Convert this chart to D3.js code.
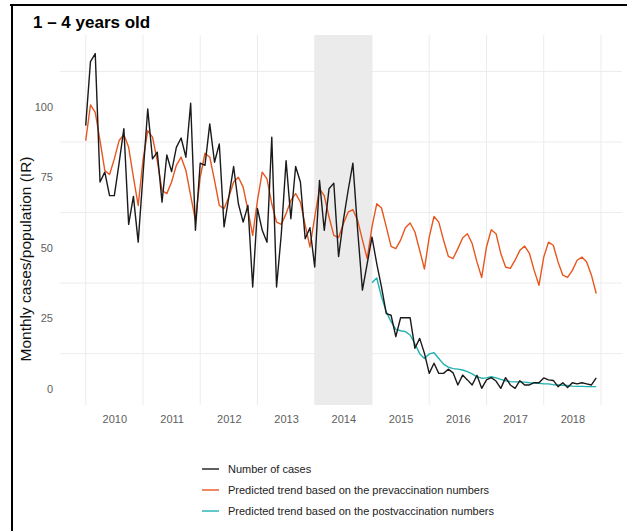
<!DOCTYPE html>
<meta charset="utf-8">
<style>
  body { margin: 0; background: white; font-family: "Liberation Sans", Arial, sans-serif; }
</style>
<div id="chart"></div>
<script src="https://cdn.jsdelivr.net/npm/d3@7"></script>
<script>
// monthly values, Jan 2010 .. Dec 2018
var cases = [
  93.3, 116, 118.8, 73.3, 76.8, 68.5, 68.5, 80, 92.2, 58.3, 68.2, 52,
  75.6, 99.2, 81.5, 83.9, 66.2, 82.9, 77, 85.6, 88.9, 82.1, 101.2, 56.2,
  80, 79.2, 93.9, 80.3, 86.8, 57.4, 68, 78.8, 65.6, 59.1, 65, 36.1,
  63.9, 56.2, 52, 89.2, 36.1, 55, 80.9, 60.3, 78.8, 73.3, 53.2, 57.1,
  43.2, 73.9, 56.2, 70.9, 72.9, 46.9, 59.7, 70.3, 80, 56.2, 35, 44.4,
  53.8, 44.4, 36.1, 26.7, 26.1, 18.5, 25.2, 25.2, 25.2, 14.4, 17.9, 12.6,
  5.5, 9.1, 5.5, 5.5, 7, 5.7, 1.4, 4.9, 3.2, 1.4, 4.8, 0.2,
  3.2, 4, 2.8, 0.2, 4, 1.4, 0.2, 2.9, 1.4, 1.4, 2.2, 2.2,
  3.9, 3.2, 3, 0.8, 2.2, 0.5, 2.2, 1.8, 2.2, 1.8, 1.4, 3.9
];
var prevacc = [
  88, 100.6, 98, 88, 77.4, 76, 81.5, 88, 90.1, 85.6, 75, 65,
  80.9, 91.5, 89.2, 80.9, 70.3, 69.2, 73.3, 79.2, 82.1, 77.4, 68.5, 59.7,
  75, 83.5, 82.1, 73.9, 65, 63.9, 68, 73.3, 75, 71.5, 63.3, 54.4,
  66.8, 76.8, 74.4, 65.6, 59.1, 58.3, 62.1, 66.8, 69.2, 66.2, 58, 50.3,
  60.9, 70.9, 68.5, 60.9, 54.4, 53.6, 58.5, 62.6, 63.5, 59.7, 52.7, 46.2,
  57.4, 65.6, 64.1, 57.4, 50.5, 49.7, 52.7, 57.1, 58.8, 55.6, 49.1, 42.5,
  53.8, 61.1, 59.1, 52.7, 47, 46.2, 49.7, 53.5, 55, 51.5, 45, 39.5,
  50.3, 56.4, 55, 48, 43.2, 42.7, 45.6, 49.1, 50.6, 48, 42, 36.7,
  46.7, 52, 50.9, 45, 40.3, 39.5, 42, 45.6, 46.7, 45, 40.3, 33.8
];
// Jan 2015 .. Dec 2018
var postvacc = [
  37.6, 39.3, 32.6, 27.3, 23.8, 21.1, 20.6, 20.3, 19.1, 16, 12.5, 10.8,
  12.4, 12.8, 10.8, 8.8, 7.7, 7.2, 7, 6.7, 6.1, 5.3, 4.3, 3.8,
  3.9, 4.3, 3.9, 3.4, 2.9, 2.6, 2.5, 2.5, 2.4, 2.2, 2.1, 2,
  1.8, 1.8, 1.5, 1.4, 1.3, 1.2, 1, 0.9, 0.9, 0.8, 0.8, 0.8
];
var years = [2010, 2011, 2012, 2013, 2014, 2015, 2016, 2017, 2018];
var yTicks = [0, 25, 50, 75, 100];
var yGrid = [12.5, 37.5, 62.5, 87.5, 112.5];
var vaccPeriod = [2014, 2015];
var legendLabels = ["Number of cases",
  "Predicted trend based on the prevaccination numbers",
  "Predicted trend based on the postvaccination numbers"];
var colors = ["#1a1a1a", "#e8561f", "#1fb0b0"];

var W = 627, H = 531;
var svg = d3.select("#chart").append("svg")
  .attr("width", W).attr("height", H);

var x = d3.scaleLinear().domain([2009.551, 2019.367]).range([60, 622]);
var y = d3.scaleLinear().domain([-5.7, 125.4]).range([405, 35]);

// outer frame (top and left)
svg.append("line").attr("x1", 10).attr("x2", W).attr("y1", 5).attr("y2", 5)
  .attr("stroke", "#000").attr("stroke-width", 2);
svg.append("line").attr("x1", 12).attr("x2", 12).attr("y1", 5).attr("y2", H)
  .attr("stroke", "#000").attr("stroke-width", 2);

// gridlines
svg.append("g").selectAll("line").data(yGrid).enter().append("line")
  .attr("x1", x.range()[0]).attr("x2", x.range()[1])
  .attr("y1", d => y(d)).attr("y2", d => y(d))
  .attr("stroke", "#ececec").attr("stroke-width", 1);
svg.append("g").selectAll("line").data(years.concat([2019])).enter().append("line")
  .attr("x1", d => x(d)).attr("x2", d => x(d))
  .attr("y1", y.range()[0]).attr("y2", y.range()[1])
  .attr("stroke", "#ececec").attr("stroke-width", 1);

// shaded vaccination period
svg.append("rect")
  .attr("x", x(vaccPeriod[0])).attr("width", x(vaccPeriod[1]) - x(vaccPeriod[0]))
  .attr("y", y.range()[1]).attr("height", y.range()[0] - y.range()[1])
  .attr("fill", "#ebebeb");

// axes
var xAxis = svg.append("g").attr("transform", "translate(0,405)")
  .call(d3.axisBottom(x).tickValues(years.map(d => d + 0.5))
    .tickFormat(d => Math.floor(d)).tickSize(0).tickPadding(10));
var yAxis = svg.append("g").attr("transform", "translate(60,0)")
  .call(d3.axisLeft(y).tickValues(yTicks).tickSize(0).tickPadding(7));
[xAxis, yAxis].forEach(function(a) {
  a.select(".domain").remove();
  a.selectAll("text").attr("fill", "#5e5e5e")
    .style("font-size", "11px").style("font-family", "Liberation Sans, Arial, sans-serif");
});

// lines
var line = d3.line()
  .x(d => x(d.t))
  .y(d => y(d.v));
function series(vals, startYear) {
  return vals.map((v, i) => ({ t: startYear + i / 12, v: v }));
}
[[prevacc, 2010, colors[1]], [postvacc, 2015, colors[2]], [cases, 2010, colors[0]]]
  .forEach(function(s) {
    svg.append("path")
      .datum(series(s[0], s[1]))
      .attr("fill", "none")
      .attr("stroke", s[2])
      .attr("stroke-width", 1.4)
      .attr("stroke-linejoin", "round")
      .attr("d", line);
  });

// title
svg.append("text").attr("x", 33).attr("y", 28)
  .style("font-size", "17px").style("font-weight", "bold")
  .text("1 \u2013 4 years old");

// y axis title (white backing over the frame)
var ylab = svg.append("g").attr("transform", "translate(31,259) rotate(-90)");
ylab.append("rect").attr("x", -115).attr("y", -16).attr("width", 230).attr("height", 22)
  .attr("fill", "white");
ylab.append("text").attr("text-anchor", "middle")
  .style("font-size", "15.5px").attr("fill", "#111")
  .text("Monthly cases/population (IR)");

// legend
var legend = svg.append("g").selectAll("g").data(legendLabels).enter().append("g")
  .attr("transform", (d, i) => "translate(202," + (469 + i * 21) + ")");
legend.append("line").attr("x1", 0).attr("x2", 17)
  .attr("stroke", (d, i) => colors[i]).attr("stroke-width", 1.4);
legend.append("text").attr("x", 26).attr("dy", "0.35em")
  .style("font-size", "11px").attr("fill", "#222")
  .text(d => d);
</script>
